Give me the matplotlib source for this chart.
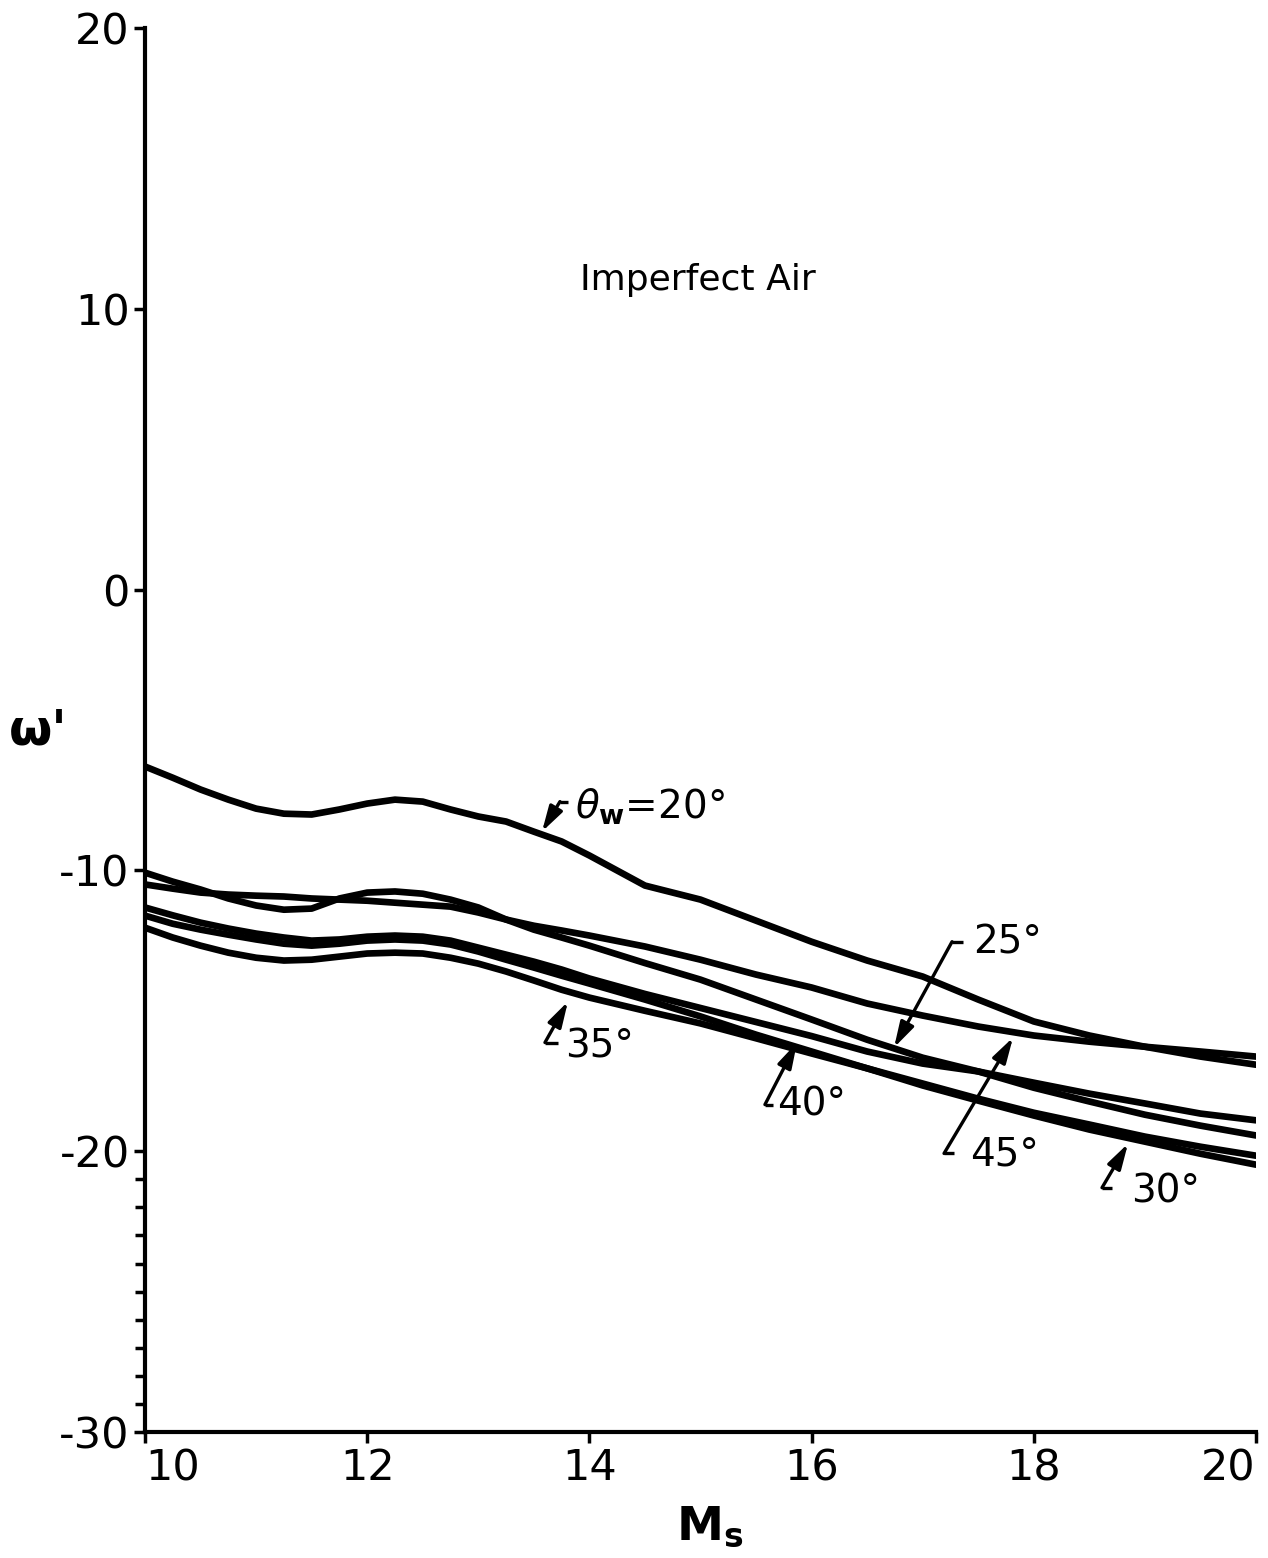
import matplotlib
matplotlib.use("Agg")
import matplotlib.pyplot as plt
from matplotlib.ticker import FixedLocator

plt.rcParams['font.family'] = ['DejaVu Sans']
plt.rcParams['axes.unicode_minus'] = False

# ---- data ----
mach = [10.0, 10.25, 10.5, 10.75, 11.0, 11.25, 11.5, 11.75, 12.0, 12.25, 12.5, 12.75,
        13.0, 13.25, 13.5, 13.75, 14.0, 14.5, 15.0, 15.5, 16.0, 16.5, 17.0, 17.5,
        18.0, 18.5, 19.0, 19.5, 20.0]

w_20 = [-6.30, -6.70, -7.12, -7.48, -7.80, -7.98, -8.01, -7.83, -7.62, -7.48, -7.55, -7.83,
        -8.08, -8.26, -8.62, -8.97, -9.47, -10.54, -11.04, -11.79, -12.54, -13.21, -13.78, -14.60,
        -15.38, -15.88, -16.28, -16.63, -16.92]
w_25 = [-10.08, -10.40, -10.68, -11.00, -11.25, -11.40, -11.36, -11.00, -10.79, -10.75, -10.83, -11.04,
        -11.32, -11.75, -12.11, -12.39, -12.68, -13.30, -13.89, -14.60, -15.31, -16.03, -16.67, -17.16,
        -17.74, -18.23, -18.70, -19.09, -19.44]
w_30 = [-11.61, -11.90, -12.11, -12.29, -12.46, -12.61, -12.68, -12.61, -12.50, -12.46, -12.50, -12.64,
        -12.89, -13.18, -13.46, -13.75, -14.03, -14.60, -15.20, -15.85, -16.45, -17.05, -17.66, -18.20,
        -18.73, -19.23, -19.66, -20.09, -20.48]
w_35 = [-12.04, -12.39, -12.68, -12.93, -13.11, -13.21, -13.18, -13.07, -12.96, -12.93, -12.96, -13.11,
        -13.32, -13.60, -13.92, -14.25, -14.53, -15.00, -15.45, -15.98, -16.52, -17.05, -17.59, -18.13,
        -18.63, -19.05, -19.48, -19.84, -20.16]
w_40 = [-11.32, -11.60, -11.86, -12.07, -12.25, -12.39, -12.50, -12.46, -12.36, -12.32, -12.36, -12.50,
        -12.75, -13.00, -13.25, -13.53, -13.85, -14.40, -14.90, -15.40, -15.90, -16.45, -16.88, -17.16,
        -17.56, -17.95, -18.30, -18.66, -18.90]
w_45 = [-10.50, -10.65, -10.79, -10.86, -10.90, -10.93, -11.00, -11.04, -11.08, -11.15, -11.22, -11.29,
        -11.50, -11.75, -11.97, -12.14, -12.32, -12.71, -13.18, -13.71, -14.17, -14.74, -15.17, -15.56,
        -15.88, -16.10, -16.28, -16.45, -16.63]

x_ticks = [10, 12, 14, 16, 18, 20]
x_ticklabels = ['10', '12', '14', '16', '18', '20']
y_ticks = [-30, -20, -10, 0, 10, 20]
y_ticklabels = ['-30', '-20', '-10', '0', '10', '20']
y_minor = [-29, -28, -27, -26, -25, -24, -23, -22, -21]

title_text = 'Imperfect Air'

# ---- figure ----
W, H = 1268, 1558
fig = plt.figure(figsize=(W / 100, H / 100), dpi=100)
ax = fig.add_axes([145 / W, 1 - 1432 / H, (1256 - 145) / W, (1432 - 28) / H])

for ys in (w_20, w_25, w_30, w_35, w_40, w_45):
    ax.plot(mach, ys, color='black', lw=4.8, solid_capstyle='round', solid_joinstyle='round')

ax.set_xlim(10, 20)
ax.set_ylim(-30, 20)
ax.spines['top'].set_visible(False)
ax.spines['right'].set_visible(False)
ax.spines['left'].set_linewidth(3)
ax.spines['bottom'].set_linewidth(3)

ax.set_xticks(x_ticks)
ax.set_xticklabels(x_ticklabels)
ax.set_yticks(y_ticks)
ax.set_yticklabels(y_ticklabels)
ax.yaxis.set_minor_locator(FixedLocator(y_minor))
ax.tick_params(axis='both', which='major', direction='out', length=8, width=2.5,
               labelsize=31, pad=3)
ax.tick_params(axis='y', which='minor', direction='out', length=7, width=2.5)
xl = ax.get_xticklabels()
xl[0].set_horizontalalignment('left')
xl[-1].set_horizontalalignment('right')

ax.text(14.98, 11.04, title_text, fontsize=26, ha='center', va='center')

# labels with leader arrows: (text, tip, elbow, stub_end, text_pos)
lab_fs = 28
def leader(txt, tip, elbow, stub_end, tpos):
    ax.plot([elbow[0], stub_end[0]], [elbow[1], stub_end[1]], color='black', lw=2.4,
            solid_capstyle='butt')
    ax.annotate('', xy=tip, xytext=elbow,
                arrowprops=dict(arrowstyle='-|>,head_length=0.7,head_width=0.2',
                                color='black', lw=2.4, shrinkA=0, shrinkB=0,
                                mutation_scale=22))
    ax.text(tpos[0], tpos[1], txt, fontsize=lab_fs, ha='left', va='center')

leader(r'$\theta_{\mathbf{w}}$=20°', (13.573, -8.62), (13.735, -7.55), (13.81, -7.55), (13.87, -7.73))
leader('25°', (16.742, -16.31), (17.264, -12.54), (17.363, -12.54), (17.453, -12.57))
leader('45°', (17.813, -15.95), (17.192, -20.08), (17.28, -20.08), (17.426, -20.12))
leader('30°', (18.848, -19.73), (18.614, -21.30), (18.70, -21.30), (18.875, -21.44))
leader('35°', (13.807, -14.67), (13.60, -16.13), (13.717, -16.13), (13.78, -16.27))
leader('40°', (15.869, -16.13), (15.58, -18.34), (15.652, -18.34), (15.689, -18.34))

fig.text(38 / W, 1 - 730 / H, "ω'", fontsize=36, fontweight='bold', ha='center', va='center')
fig.text(710 / W, 1 - 1527 / H, r'$\mathbf{M_s}$', fontsize=34, ha='center', va='center')

fig.savefig('out.png', dpi=100)
